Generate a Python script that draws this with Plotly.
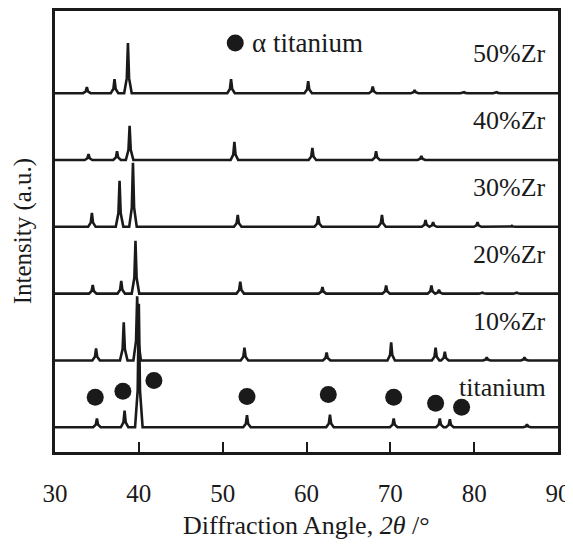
import plotly.graph_objects as go

# ---- data ----
sample_names = ["titanium", "10%Zr", "20%Zr", "30%Zr", "40%Zr", "50%Zr"]
sample_offsets = [0, 1, 2, 3, 4, 5]

ti_pos = [35.0, 38.3, 40.0, 52.9, 62.8, 70.4, 75.9, 77.1, 86.3]
ti_h = [0.13, 0.25, 1.85, 0.18, 0.19, 0.13, 0.13, 0.12, 0.045]

zr10_pos = [34.9, 38.2, 39.8, 52.6, 62.4, 70.1, 75.4, 76.5, 81.5, 86.0]
zr10_h = [0.18, 0.57, 0.96, 0.19, 0.12, 0.27, 0.19, 0.13, 0.045, 0.045]

zr20_pos = [34.5, 37.9, 39.6, 52.1, 61.9, 69.5, 74.9, 75.8, 81.0, 85.1]
zr20_h = [0.13, 0.19, 0.79, 0.18, 0.10, 0.12, 0.12, 0.06, 0.015, 0.015]

zr30_pos = [34.4, 37.7, 39.3, 51.8, 61.4, 69.0, 74.2, 75.1, 80.4, 84.5]
zr30_h = [0.21, 0.69, 0.96, 0.18, 0.16, 0.18, 0.10, 0.07, 0.07, 0.015]

zr40_pos = [34.0, 37.4, 38.9, 51.4, 60.7, 68.3, 73.7]
zr40_h = [0.09, 0.13, 0.51, 0.27, 0.18, 0.13, 0.06]

zr50_pos = [33.8, 37.1, 38.7, 51.0, 60.2, 67.9, 72.9, 78.8, 82.7]
zr50_h = [0.09, 0.21, 0.75, 0.21, 0.18, 0.10, 0.045, 0.015, 0.015]

# alpha-titanium markers above the titanium pattern
alpha_x = [34.8, 38.1, 41.8, 52.9, 62.6, 70.4, 75.4, 78.5]
alpha_y = [0.45, 0.54, 0.70, 0.46, 0.49, 0.45, 0.36, 0.30]

x_ticks = [30, 40, 50, 60, 70, 80, 90]

patterns = [
    (ti_pos, ti_h), (zr10_pos, zr10_h), (zr20_pos, zr20_h),
    (zr30_pos, zr30_h), (zr40_pos, zr40_h), (zr50_pos, zr50_h),
]

FONT = "Liberation Serif, Times New Roman, serif"
INK = "#1a1a1a"
HALF_W = 0.45   # peak base half-width (style only)

fig = go.Figure()

for (pos, hts), off, name in zip(patterns, sample_offsets, sample_names):
    xs = [30.0]
    ys = [off]
    for p, h in sorted(zip(pos, hts)):
        xs += [p - HALF_W, p - HALF_W * 0.3, p, p + HALF_W * 0.3, p + HALF_W]
        ys += [off, off + h * 0.3, off + h, off + h * 0.3, off]
    xs.append(90.0)
    ys.append(off)
    fig.add_trace(go.Scatter(x=xs, y=ys, mode="lines",
                             line=dict(color=INK, width=2.6),
                             showlegend=False, hoverinfo="skip"))
    fig.add_annotation(x=88.8, y=off + 0.59, text=name, showarrow=False,
                       xanchor="right", yanchor="middle",
                       font=dict(family=FONT, size=26, color=INK))

fig.add_trace(go.Scatter(x=alpha_x, y=alpha_y, mode="markers",
                         marker=dict(color=INK, size=17),
                         showlegend=False, hoverinfo="skip"))

# legend-like key
fig.add_trace(go.Scatter(x=[51.5], y=[5.75], mode="markers",
                         marker=dict(color=INK, size=17),
                         showlegend=False, hoverinfo="skip"))
fig.add_annotation(x=53.3, y=5.75, text="α titanium", showarrow=False,
                   xanchor="left", yanchor="middle",
                   font=dict(family=FONT, size=27, color=INK))

# axis titles
fig.add_annotation(xref="paper", yref="paper", x=0.5, y=-0.166,
                   text="Diffraction Angle, <i>2θ</i> /°", showarrow=False,
                   xanchor="center", yanchor="middle",
                   font=dict(family=FONT, size=26, color=INK))
fig.add_annotation(xref="paper", yref="paper", x=-0.064, y=0.5,
                   text="Intensity (a.u.)", showarrow=False, textangle=-90,
                   xanchor="center", yanchor="middle",
                   font=dict(family=FONT, size=25, color=INK))

fig.update_layout(
    width=565, height=536,
    margin=dict(l=47, r=15, t=3, b=92),
    paper_bgcolor="white", plot_bgcolor="white",
    font=dict(family=FONT, size=25, color=INK),
    xaxis=dict(range=[30, 90], tickvals=x_ticks, ticktext=[str(v) for v in x_ticks],
               ticks="inside", ticklen=10, tickwidth=2, tickcolor=INK,
               showline=True, linewidth=2.5, linecolor=INK, mirror=True,
               showgrid=False, zeroline=False, ticklabelstandoff=17,
               automargin=False,
               tickfont=dict(family=FONT, size=25, color=INK)),
    yaxis=dict(range=[-0.37, 6.23], showticklabels=False, ticks="",
               showline=True, linewidth=2.5, linecolor=INK, mirror=True,
               showgrid=False, zeroline=False, automargin=False),
)

fig.write_html("out.html")
